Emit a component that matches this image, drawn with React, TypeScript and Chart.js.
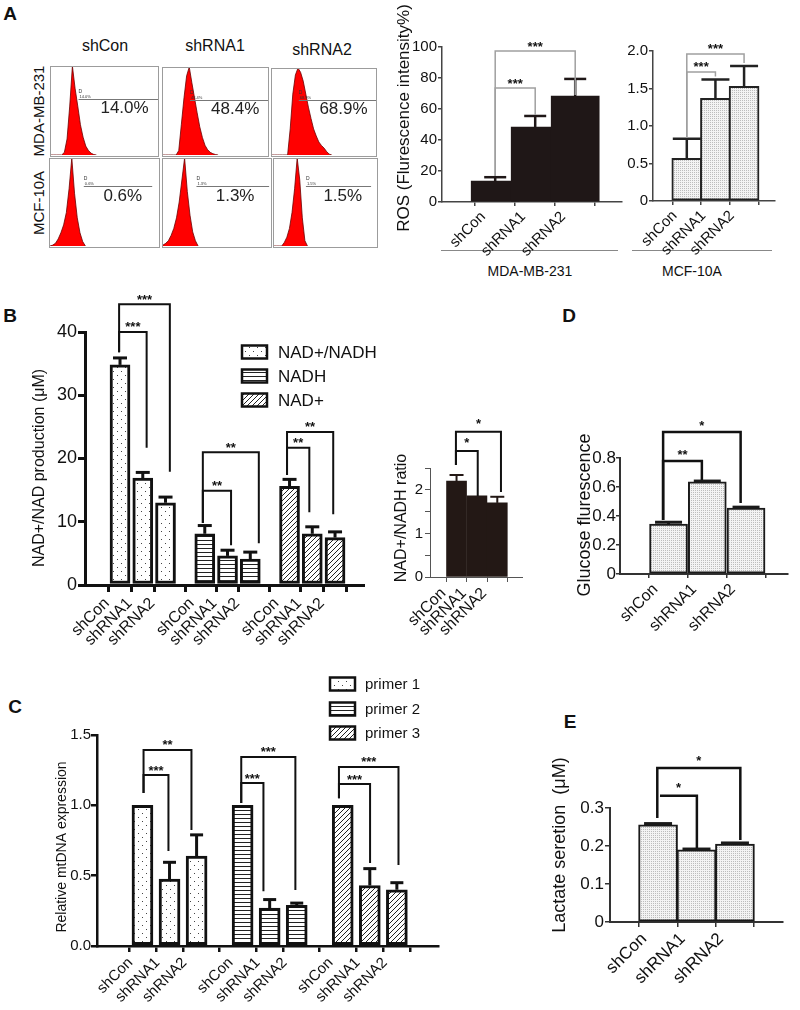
import React, { useEffect, useRef } from "react";
import { Chart, registerables } from "chart.js";

Chart.register(...registerables);

const FONT = "'Liberation Sans', Arial, Helvetica, sans-serif";
Chart.defaults.font.family = FONT;

// ================= DATA =================
// Panel A – flow cytometry histograms (counts per fluorescence bin, peak = 100)
const flowColumns = ["shCon", "shRNA1", "shRNA2"];
const flowRows = ["MDA-MB-231", "MCF-10A"];
const flowPercents = ["14.0%", "48.4%", "68.9%", "0.6%", "1.3%", "1.5%"];
const histMdaShCon = [0, 0, 0, 0, 0, 3, 18, 55, 100, 75, 55, 34, 20, 10, 5, 2, 0.5, 0];
const histMdaShRNA1 = [0, 0, 0, 0, 0, 0, 5, 35, 65, 90, 100, 82, 65, 48, 32, 20, 11, 6, 3, 1.5, 0.5, 0];
const histMdaShRNA2 = [0, 0, 0, 0, 0, 0, 0, 30, 70, 92, 100, 95, 85, 70, 55, 42, 30, 22, 15, 11, 8, 4, 1, 0];
const histMcfShCon = [0, 1, 3, 8, 15, 24, 38, 65, 100, 60, 32, 15, 5, 0];
const histMcfShRNA1 = [1, 3, 6, 12, 20, 32, 50, 75, 100, 62, 35, 16, 6, 0];
const histMcfShRNA2 = [0, 0, 0, 0, 4, 10, 20, 38, 65, 100, 75, 32, 6, 0];
const histograms = [histMdaShCon, histMdaShRNA1, histMdaShRNA2, histMcfShCon, histMcfShRNA1, histMcfShRNA2];

// Panel A – ROS
const groupLabels = ["shCon", "shRNA1", "shRNA2"];
const rosMda = [13.5, 48.4, 68.4];
const rosMdaErr = [2.5, 7.1, 11.0];
const rosMcf = [0.57, 1.37, 1.53];
const rosMcfErr = [0.26, 0.25, 0.27];
const rosGroups = ["MDA-MB-231", "MCF-10A"];

// Panel B
const nadLegend = ["NAD+/NADH", "NADH", "NAD+"];
const nadRatio = [34.8, 16.9, 13.0];
const nadRatioErr = [1.1, 0.9, 0.9];
const nadh = [8.1, 4.6, 4.1];
const nadhErr = [1.3, 0.9, 1.1];
const nadPlus = [15.6, 8.1, 7.5];
const nadPlusErr = [1.1, 1.1, 0.9];
const ratioVals = [2.2, 1.86, 1.7];
const ratioErr = [0.14, 0.0, 0.14];

// Panel C
const primerLegend = ["primer 1", "primer 2", "primer 3"];
const primer1 = [1.0, 0.475, 0.64];
const primer1Err = [0, 0.12, 0.15];
const primer2 = [1.0, 0.27, 0.29];
const primer2Err = [0, 0.06, 0.015];
const primer3 = [1.0, 0.43, 0.4];
const primer3Err = [0, 0.12, 0.05];

// Panel D / E
const glucose = [0.345, 0.635, 0.455];
const glucoseErr = [0.012, 0.006, 0.006];
const lactate = [0.256, 0.19, 0.205];
const lactateErr = [0.003, 0.002, 0.003];

// Significance brackets (x in bar units, y in data units)
type Bracket = { a: number; b: number; level: number; endA: number; endB: number; text: string };
const rosMdaSig: Bracket[] = [
  { a: 0, b: 2, level: 97.4, endA: 16.8, endB: 69.0, text: "***" },
  { a: 0, b: 1, level: 73.5, endA: 16.8, endB: 56.1, text: "***" },
];
const rosMcfSig: Bracket[] = [
  { a: 0, b: 2, level: 1.96, endA: 0.84, endB: 1.84, text: "***" },
  { a: 0, b: 1, level: 1.72, endA: 0.84, endB: 1.66, text: "***" },
];
const nadSig: Bracket[] = [
  { a: -0.04, b: 2.19, level: 44.4, endA: 36.8, endB: 17.9, text: "***" },
  { a: -0.04, b: 1.17, level: 40.0, endA: 36.8, endB: 21.7, text: "***" },
  { a: 3.64, b: 6.1, level: 21.0, endA: 9.8, endB: 6.6, text: "**" },
  { a: 3.64, b: 4.88, level: 14.9, endA: 9.8, endB: 6.3, text: "**" },
  { a: 7.34, b: 9.37, level: 24.2, endA: 17.4, endB: 11.2, text: "**" },
  { a: 7.34, b: 8.32, level: 21.7, endA: 17.4, endB: 11.5, text: "**" },
];
const ratioSig: Bracket[] = [
  { a: -0.03, b: 2.18, level: 3.33, endA: 2.57, endB: 1.95, text: "*" },
  { a: -0.03, b: 1.04, level: 2.89, endA: 2.57, endB: 1.86, text: "*" },
];
const mtSig: Bracket[] = [
  { a: 0.04, b: 1.81, level: 1.393, endA: 1.087, endB: 0.824, text: "**" },
  { a: 0.04, b: 0.96, level: 1.215, endA: 1.087, endB: 0.675, text: "***" },
  { a: 3.65, b: 5.65, level: 1.343, endA: 1.016, endB: 0.398, text: "***" },
  { a: 3.65, b: 4.47, level: 1.158, endA: 1.016, endB: 0.39, text: "***" },
  { a: 7.26, b: 9.46, level: 1.272, endA: 1.05, endB: 0.576, text: "***" },
  { a: 7.26, b: 8.41, level: 1.151, endA: 1.05, endB: 0.59, text: "***" },
];
const glucoseSig: Bracket[] = [
  { a: -0.14, b: 1.86, level: 0.98, endA: 0.372, endB: 0.49, text: "*" },
  { a: -0.14, b: 0.86, level: 0.78, endA: 0.372, endB: 0.648, text: "**" },
];
const lactateSig: Bracket[] = [
  { a: -0.02, b: 2.14, level: 0.405, endA: 0.274, endB: 0.216, text: "*" },
  { a: 0.05, b: 1.01, level: 0.332, endA: 0.332, endB: 0.195, text: "*" },
];

// ================= LAYOUT / STYLE =================
const histBoxes = [
  { l: 50, t: 66, w: 109, h: 91 },
  { l: 162, t: 67, w: 107, h: 90 },
  { l: 271, t: 68, w: 106, h: 89 },
  { l: 49, t: 158, w: 111, h: 90 },
  { l: 162, t: 158, w: 110, h: 90 },
  { l: 273, t: 158, w: 105, h: 90 },
];
const gateEnds = [40, 40, 40, 37.5, 39.3, 37.7];

function makePattern(kind: string): any {
  if (kind.startsWith("#")) return kind;
  const c = document.createElement("canvas");
  const g = c.getContext("2d") as CanvasRenderingContext2D;
  if (kind === "dots") {
    c.width = 8; c.height = 8;
    g.fillStyle = "#fff"; g.fillRect(0, 0, 8, 8);
    g.fillStyle = "#444"; g.fillRect(1, 1, 1, 1); g.fillRect(5, 5, 1, 1);
  } else if (kind === "hlines") {
    c.width = 4; c.height = 4;
    g.fillStyle = "#fff"; g.fillRect(0, 0, 4, 4);
    g.fillStyle = "#222"; g.fillRect(0, 2, 4, 1);
  } else if (kind === "diag") {
    c.width = 5; c.height = 5;
    g.fillStyle = "#fff"; g.fillRect(0, 0, 5, 5);
    g.strokeStyle = "#222"; g.lineWidth = 1;
    g.beginPath();
    g.moveTo(-1, 6); g.lineTo(6, -1);
    g.moveTo(-1, 1); g.lineTo(1, -1);
    g.moveTo(4, 6); g.lineTo(6, 4);
    g.stroke();
  } else {
    c.width = 2; c.height = 2;
    g.fillStyle = "#f3f3f3"; g.fillRect(0, 0, 2, 2);
    g.fillStyle = "#bcbcbc"; g.fillRect(0, 0, 1, 1);
  }
  return g.createPattern(c, "repeat");
}

type Series = { values: number[]; errs: number[]; pos: number[]; fill: string; border: string; borderW: number };
type Rect = { l: number; r: number; t: number; b: number };
type Spec = {
  area: Rect; canvas: Rect;
  xMin: number; xMax: number; tickPos: number[]; tickLabels: string[];
  yMax: number; yStep: number; yFmt: (v: number) => string;
  barW: number; series: Series[];
  axisColor: string; axisW: number; tickLen: number; tickW: number;
  yFont: number; xFont: number; xPad: number; yPad: number;
  errColor: string; errW: number; capW: number;
  brackets: Bracket[]; brColor: string; brW: number; starGap: number;
  yTitle?: { text: string; x: number; y: number; size: number };
  legend?: { labels: string[]; fills: string[]; boxX: number; boxW: number; boxH: number; ys: number[]; textX: number; size: number };
};

const zeroFmt = (v: number) => (Math.abs(v) < 1e-9 ? "0" : v.toFixed(1));
const pos3 = [0, 1, 2];
const nadPos = (g: number) => pos3.map((i) => g * 3.725 + i);
const mtPos = (g: number) => pos3.map((i) => g * 3.7 + i);

const rosMdaSpec: Spec = {
  area: { l: 442, r: 622, t: 47, b: 202 }, canvas: { l: 393, r: 630, t: 0, b: 258 },
  xMin: -0.58, xMax: 2.42, tickPos: pos3, tickLabels: groupLabels,
  yMax: 100, yStep: 20, yFmt: (v) => String(Math.round(v)),
  barW: 48,
  series: [{ values: rosMda, errs: rosMdaErr, pos: pos3, fill: "#1f1717", border: "#1f1717", borderW: 0 }],
  axisColor: "#444", axisW: 1.5, tickLen: 4, tickW: 1.5, yFont: 15, xFont: 15, xPad: 2, yPad: 1,
  errColor: "#1f1717", errW: 2.5, capW: 22,
  brackets: rosMdaSig, brColor: "#a0a0a0", brW: 1.5, starGap: 7,
  yTitle: { text: "ROS (Flurescence intensity%)", x: 404, y: 118, size: 17 },
};
const rosMcfSpec: Spec = {
  area: { l: 653, r: 775, t: 51, b: 201 }, canvas: { l: 612, r: 792, t: 28, b: 258 },
  xMin: -0.47, xMax: 2.37, tickPos: pos3, tickLabels: groupLabels,
  yMax: 2, yStep: 0.5, yFmt: zeroFmt,
  barW: 30,
  series: [{ values: rosMcf, errs: rosMcfErr, pos: pos3, fill: "stipple", border: "#222", borderW: 2 }],
  axisColor: "#444", axisW: 1.5, tickLen: 4, tickW: 1.5, yFont: 15, xFont: 15, xPad: 2, yPad: 1,
  errColor: "#222", errW: 2.5, capW: 28,
  brackets: rosMcfSig, brColor: "#a0a0a0", brW: 1.5, starGap: 8,
};
const nadSpec: Spec = {
  area: { l: 85, r: 363, t: 332, b: 585 }, canvas: { l: 20, r: 392, t: 278, b: 662 },
  xMin: -0.86, xMax: 10.0, tickPos: [...nadPos(0), ...nadPos(1), ...nadPos(2)],
  tickLabels: [...groupLabels, ...groupLabels, ...groupLabels],
  yMax: 40, yStep: 10, yFmt: (v) => String(Math.round(v)),
  barW: 20,
  series: [
    { values: nadRatio, errs: nadRatioErr, pos: nadPos(0), fill: "dots", border: "#111", borderW: 3 },
    { values: nadh, errs: nadhErr, pos: nadPos(1), fill: "hlines", border: "#111", borderW: 3 },
    { values: nadPlus, errs: nadPlusErr, pos: nadPos(2), fill: "diag", border: "#111", borderW: 3 },
  ],
  axisColor: "#111", axisW: 3, tickLen: 7, tickW: 3, yFont: 18, xFont: 16, xPad: 2, yPad: 1,
  errColor: "#111", errW: 3, capW: 14,
  brackets: nadSig, brColor: "#111", brW: 2, starGap: 8,
  yTitle: { text: "NAD+/NAD production (μM)", x: 40, y: 468, size: 16 },
  legend: { labels: nadLegend, fills: ["dots", "hlines", "diag"], boxX: 242, boxW: 25, boxH: 13, ys: [352, 376, 400], textX: 278, size: 17 },
};
const ratioSpec: Spec = {
  area: { l: 430, r: 522, t: 468, b: 577 }, canvas: { l: 385, r: 535, t: 405, b: 652 },
  xMin: -0.55, xMax: 2.46, tickPos: pos3, tickLabels: groupLabels,
  yMax: 2.5, yStep: 0.5, yFmt: (v) => (Math.abs(v - Math.round(v)) < 1e-9 ? String(Math.round(v)) : ""),
  barW: 20,
  series: [{ values: ratioVals, errs: ratioErr, pos: pos3, fill: "#231815", border: "#231815", borderW: 0 }],
  axisColor: "#555", axisW: 1, tickLen: 5, tickW: 1, yFont: 15, xFont: 16, xPad: 2, yPad: 2,
  errColor: "#231815", errW: 2, capW: 14,
  brackets: ratioSig, brColor: "#111", brW: 2, starGap: 11,
  yTitle: { text: "NAD+/NADH ratio", x: 402, y: 518, size: 16 },
};
const mtSpec: Spec = {
  area: { l: 97, r: 438, t: 735, b: 946 }, canvas: { l: 45, r: 452, t: 668, b: 1010 },
  xMin: -0.98, xMax: 10.22, tickPos: [...mtPos(0), ...mtPos(1), ...mtPos(2)],
  tickLabels: [...groupLabels, ...groupLabels, ...groupLabels],
  yMax: 1.5, yStep: 0.5, yFmt: (v) => v.toFixed(1),
  barW: 21,
  series: [
    { values: primer1, errs: primer1Err, pos: mtPos(0), fill: "dots", border: "#111", borderW: 3 },
    { values: primer2, errs: primer2Err, pos: mtPos(1), fill: "hlines", border: "#111", borderW: 3 },
    { values: primer3, errs: primer3Err, pos: mtPos(2), fill: "diag", border: "#111", borderW: 3 },
  ],
  axisColor: "#111", axisW: 2.5, tickLen: 6, tickW: 2.5, yFont: 15, xFont: 15, xPad: 2, yPad: 0,
  errColor: "#111", errW: 3, capW: 13,
  brackets: mtSig, brColor: "#111", brW: 2, starGap: 8,
  yTitle: { text: "Relative mtDNA expression", x: 62, y: 847, size: 14 },
  legend: { labels: primerLegend, fills: ["dots", "hlines", "diag"], boxX: 330, boxW: 25, boxH: 13, ys: [684, 709, 733], textX: 365, size: 15 },
};
const glucoseSpec: Spec = {
  area: { l: 620, r: 788, t: 458, b: 574 }, canvas: { l: 565, r: 798, t: 410, b: 642 },
  xMin: -0.53, xMax: 2.36, tickPos: pos3, tickLabels: groupLabels,
  yMax: 0.8, yStep: 0.2, yFmt: zeroFmt,
  barW: 38,
  series: [{ values: glucose, errs: glucoseErr, pos: pos3, fill: "stipple", border: "#1a1a1a", borderW: 2 }],
  axisColor: "#333", axisW: 2, tickLen: 4, tickW: 1.5, yFont: 17, xFont: 16, xPad: 2, yPad: 0,
  errColor: "#1a1a1a", errW: 3, capW: 27,
  brackets: glucoseSig, brColor: "#111", brW: 2.5, starGap: 9,
  yTitle: { text: "Glucose flurescence", x: 585, y: 515, size: 18 },
};
const lactateSpec: Spec = {
  area: { l: 610, r: 783, t: 808, b: 922 }, canvas: { l: 545, r: 795, t: 745, b: 1005 },
  xMin: -0.5, xMax: 2.5, tickPos: pos3, tickLabels: groupLabels,
  yMax: 0.3, yStep: 0.1, yFmt: zeroFmt,
  barW: 39,
  series: [{ values: lactate, errs: lactateErr, pos: pos3, fill: "stipple", border: "#1a1a1a", borderW: 2 }],
  axisColor: "#333", axisW: 2, tickLen: 5, tickW: 1.5, yFont: 17, xFont: 17, xPad: 2, yPad: 1,
  errColor: "#1a1a1a", errW: 3, capW: 28,
  brackets: lactateSig, brColor: "#111", brW: 2.5, starGap: 11,
  yTitle: { text: "Lactate seretion  (μM)", x: 560, y: 845, size: 18 },
};

// ================= CHART BUILDERS =================
function extrasPlugin(s: Spec, legendFills: any[]) {
  return {
    id: "extras",
    afterDatasetsDraw(chart: any) {
      const ctx = chart.ctx as CanvasRenderingContext2D;
      const xs = chart.scales.x;
      const ys = chart.scales.y;
      const c = s.canvas;
      ctx.save();
      // error bars (upper half)
      ctx.strokeStyle = s.errColor;
      ctx.lineWidth = s.errW;
      ctx.lineCap = "butt";
      s.series.forEach((ser) => {
        ser.values.forEach((v, i) => {
          const e = ser.errs[i];
          if (!e) return;
          const x = xs.getPixelForValue(ser.pos[i]);
          const y0 = ys.getPixelForValue(v);
          const y1 = ys.getPixelForValue(v + e);
          ctx.beginPath(); ctx.moveTo(x, y0); ctx.lineTo(x, y1); ctx.stroke();
          ctx.beginPath(); ctx.moveTo(x - s.capW / 2, y1); ctx.lineTo(x + s.capW / 2, y1); ctx.stroke();
        });
      });
      // significance brackets
      ctx.strokeStyle = s.brColor;
      ctx.lineWidth = s.brW;
      ctx.lineJoin = "miter";
      s.brackets.forEach((b) => {
        const xa = xs.getPixelForValue(b.a);
        const xb = xs.getPixelForValue(b.b);
        const yl = ys.getPixelForValue(b.level);
        ctx.beginPath();
        ctx.moveTo(xa, ys.getPixelForValue(b.endA));
        ctx.lineTo(xa, yl);
        ctx.lineTo(xb, yl);
        ctx.lineTo(xb, ys.getPixelForValue(b.endB));
        ctx.stroke();
        ctx.fillStyle = "#111";
        ctx.font = `bold 13px ${FONT}`;
        ctx.textAlign = "center";
        ctx.textBaseline = "alphabetic";
        ctx.fillText(b.text, (xa + xb) / 2, yl - s.starGap + 0.57 * 13);
      });
      // legend
      if (s.legend) {
        const L = s.legend;
        L.labels.forEach((lab, i) => {
          const y = L.ys[i] - c.t;
          const x = L.boxX - c.l;
          ctx.fillStyle = legendFills[i];
          ctx.fillRect(x, y - L.boxH / 2, L.boxW, L.boxH);
          ctx.strokeStyle = "#111";
          ctx.lineWidth = 2.5;
          ctx.strokeRect(x, y - L.boxH / 2, L.boxW, L.boxH);
          ctx.fillStyle = "#111";
          ctx.font = `${L.size}px ${FONT}`;
          ctx.textAlign = "left";
          ctx.textBaseline = "middle";
          ctx.fillText(lab, L.textX - c.l, y + 1);
        });
      }
      // y-axis title
      if (s.yTitle) {
        const t = s.yTitle;
        ctx.save();
        ctx.translate(t.x - c.l, t.y - c.t);
        ctx.rotate(-Math.PI / 2);
        ctx.fillStyle = "#111";
        ctx.font = `${t.size}px ${FONT}`;
        ctx.textAlign = "center";
        ctx.textBaseline = "middle";
        ctx.fillText(t.text, 0, 0);
        ctx.restore();
      }
      ctx.restore();
    },
  };
}

function buildBarConfig(s: Spec): any {
  const fills = s.series.map((ser) => makePattern(ser.fill));
  const legendFills = s.legend ? s.legend.fills.map((f) => makePattern(f)) : [];
  const c = s.canvas;
  const a = s.area;
  return {
    type: "bar",
    data: {
      datasets: s.series.map((ser, k) => ({
        data: ser.values.map((v, i) => ({ x: ser.pos[i], y: v })),
        backgroundColor: fills[k],
        borderColor: ser.border,
        borderWidth: ser.borderW,
        borderSkipped: false,
        barThickness: s.barW,
        grouped: false,
      })),
    },
    options: {
      animation: false,
      responsive: false,
      devicePixelRatio: 1,
      layout: { padding: { top: a.t - c.t, right: c.r - a.r, left: 0, bottom: 0 } },
      plugins: { legend: { display: false }, tooltip: { enabled: false } },
      scales: {
        x: {
          type: "linear",
          bounds: "data",
          min: s.xMin,
          max: s.xMax,
          afterBuildTicks: (sc: any) => { sc.ticks = s.tickPos.map((v) => ({ value: v })); },
          afterFit: (sc: any) => { sc.height = c.b - a.b; },
          ticks: {
            autoSkip: false, minRotation: 45, maxRotation: 45, padding: s.xPad,
            labelOffset: -Math.round(0.8 * s.xFont),
            font: { size: s.xFont, family: FONT }, color: "#111",
            callback: (_v: any, i: number) => s.tickLabels[i],
          },
          grid: { display: true, drawOnChartArea: false, drawTicks: true, tickLength: s.tickLen, color: s.axisColor, lineWidth: s.tickW },
          border: { display: true, color: s.axisColor, width: s.axisW },
        },
        y: {
          type: "linear",
          min: 0,
          max: s.yMax,
          afterFit: (sc: any) => { sc.width = a.l - c.l; },
          ticks: {
            stepSize: s.yStep, padding: s.yPad,
            font: { size: s.yFont, family: FONT }, color: "#111",
            callback: (v: any) => s.yFmt(Number(v)),
          },
          grid: { display: true, drawOnChartArea: false, drawTicks: true, tickLength: s.tickLen, color: s.axisColor, lineWidth: s.tickW },
          border: { display: true, color: s.axisColor, width: s.axisW },
        },
      },
    },
    plugins: [extrasPlugin(s, legendFills)],
  };
}

function histConfig(idx: number): any {
  const values = histograms[idx];
  const row = idx < 3 ? 0 : 1;
  const gate = { x0: row === 0 ? 10.3 : 12.4, x1: gateEnds[idx], y: row === 0 ? 63 : 68 };
  const pct = { x: row === 0 ? 27.5 : 26.7, y: row === 0 ? 52 : 56 };
  const label = flowPercents[idx];
  return {
    type: "line",
    data: {
      datasets: [{
        data: values.map((v, i) => ({ x: i, y: v })),
        fill: "origin",
        backgroundColor: "#ff0000",
        borderColor: "#6b0000",
        borderWidth: 0.8,
        pointRadius: 0,
        tension: 0,
      }],
    },
    options: {
      animation: false,
      responsive: false,
      devicePixelRatio: 1,
      layout: { padding: { top: 0, bottom: 2, left: 1, right: 1 } },
      plugins: { legend: { display: false }, tooltip: { enabled: false } },
      scales: {
        x: { type: "linear", min: 0, max: 40, display: false },
        y: { type: "linear", min: 0, max: 100, display: false },
      },
    },
    plugins: [{
      id: "hist",
      afterDatasetsDraw(chart: any) {
        const ctx = chart.ctx as CanvasRenderingContext2D;
        const xs = chart.scales.x;
        const ys = chart.scales.y;
        ctx.save();
        ctx.strokeStyle = "#9c9c9c";
        ctx.lineWidth = 1;
        ctx.strokeRect(0.5, 0.5, chart.width - 1, chart.height - 1);
        const gy = Math.round(ys.getPixelForValue(gate.y)) + 0.5;
        const gx0 = xs.getPixelForValue(gate.x0);
        const gx1 = xs.getPixelForValue(gate.x1);
        ctx.strokeStyle = "#777";
        ctx.beginPath(); ctx.moveTo(gx0, gy); ctx.lineTo(gx1, gy); ctx.stroke();
        ctx.fillStyle = "#333";
        ctx.textAlign = "left";
        ctx.textBaseline = "alphabetic";
        ctx.font = `5px ${FONT}`;
        ctx.fillText("D", gx0, gy - 7);
        ctx.font = `4px ${FONT}`;
        ctx.fillText(label, gx0 + 1, gy - 1.5);
        ctx.font = `17px ${FONT}`;
        ctx.textAlign = "center";
        ctx.textBaseline = "middle";
        ctx.fillStyle = "#222";
        ctx.fillText(label, xs.getPixelForValue(pct.x), ys.getPixelForValue(pct.y));
        ctx.restore();
      },
    }],
  };
}

// ================= COMPONENTS =================
function ChartCanvas({ rect, make }: { rect: { l: number; t: number; w: number; h: number }; make: () => any }) {
  const ref = useRef<HTMLCanvasElement>(null);
  useEffect(() => {
    const chart = new Chart(ref.current as HTMLCanvasElement, make());
    return () => chart.destroy();
  }, []);
  return (
    <canvas
      ref={ref}
      width={rect.w}
      height={rect.h}
      style={{ position: "absolute", left: rect.l, top: rect.t, width: rect.w, height: rect.h }}
    />
  );
}

function BarChart({ spec }: { spec: Spec }) {
  const c = spec.canvas;
  return <ChartCanvas rect={{ l: c.l, t: c.t, w: c.r - c.l, h: c.b - c.t }} make={() => buildBarConfig(spec)} />;
}

function Txt({ x, y, size, bold, children, vertical }: { x: number; y: number; size: number; bold?: boolean; vertical?: boolean; children: any }) {
  return (
    <div
      style={{
        position: "absolute",
        left: x,
        top: y,
        transform: `translate(-50%, -50%)${vertical ? " rotate(-90deg)" : ""}`,
        fontSize: size,
        fontWeight: bold ? 700 : 400,
        lineHeight: 1,
        whiteSpace: "pre",
        color: "#111",
      }}
    >
      {children}
    </div>
  );
}

export default function App() {
  return (
    <div style={{ position: "absolute", left: 0, top: 0, width: 800, height: 1010, background: "#fff", fontFamily: FONT, overflow: "hidden" }}>
      <Txt x={10} y={13} size={19} bold>A</Txt>
      <Txt x={10} y={315} size={19} bold>B</Txt>
      <Txt x={15} y={706} size={19} bold>C</Txt>
      <Txt x={569} y={315} size={19} bold>D</Txt>
      <Txt x={570} y={721} size={19} bold>E</Txt>

      <Txt x={105} y={46} size={16}>{flowColumns[0]}</Txt>
      <Txt x={215} y={46} size={16}>{flowColumns[1]}</Txt>
      <Txt x={322} y={50} size={16}>{flowColumns[2]}</Txt>
      <Txt x={38} y={111} size={15} vertical>{flowRows[0]}</Txt>
      <Txt x={38} y={203} size={15} vertical>{flowRows[1]}</Txt>

      {histBoxes.map((b, i) => (
        <ChartCanvas key={i} rect={{ l: b.l, t: b.t, w: b.w, h: b.h }} make={() => histConfig(i)} />
      ))}

      <div style={{ position: "absolute", left: 441, top: 250, width: 177, height: 0, borderTop: "1px solid #888" }} />
      <div style={{ position: "absolute", left: 632, top: 250, width: 140, height: 0, borderTop: "1px solid #888" }} />
      <Txt x={530} y={271} size={14}>{rosGroups[0]}</Txt>
      <Txt x={692} y={271} size={14}>{rosGroups[1]}</Txt>

      <BarChart spec={rosMdaSpec} />
      <BarChart spec={rosMcfSpec} />
      <BarChart spec={nadSpec} />
      <BarChart spec={ratioSpec} />
      <BarChart spec={glucoseSpec} />
      <BarChart spec={mtSpec} />
      <BarChart spec={lactateSpec} />
    </div>
  );
}
